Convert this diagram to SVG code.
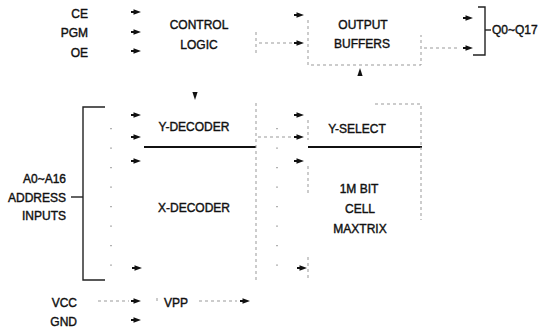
<svg xmlns="http://www.w3.org/2000/svg" width="543" height="328" viewBox="0 0 543 328">
<style>
text{font-family:"Liberation Sans",Arial,sans-serif;font-size:12px;fill:#111;stroke:#111;stroke-width:0.4}
.c{text-anchor:middle}
.e{text-anchor:end}
.solid{stroke:#222;stroke-width:1.4;fill:none}
.thick{stroke:#111;stroke-width:2.2;fill:none}
.dash{stroke:#999;stroke-width:1;fill:none;stroke-dasharray:3 3}
.dot{stroke:#888;stroke-width:1.3;fill:none;stroke-dasharray:1.3 18.2}
.ah{fill:#111;stroke:none}
</style>
<defs>
<path id="ar" class="ah" d="M-10,-0.9 H-7.5 V-2.8 L0,0 L-7.5,2.8 V0.9 H-10 Z"/>
<path id="au" class="ah" d="M-2.6,0 L0,-8 L2.6,0 Z"/>
<path id="ad" class="ah" d="M-2.6,0 L0,8 L2.6,0 Z"/>
</defs>

<g id="inputs">
<text class="e" x="88" y="18">CE</text>
<text class="e" x="88" y="37">PGM</text>
<text class="e" x="88" y="57">OE</text>
</g>

<g id="control-logic">
<text class="c" x="199" y="29">CONTROL</text>
<text class="c" x="199" y="49">LOGIC</text>
<line class="dash" x1="256" y1="32" x2="256" y2="54"/>
</g>

<g id="output-buffers">
<path class="dash" d="M308,20 V65 H421 V35"/>
<text class="c" x="363" y="29">OUTPUT</text>
<text class="c" x="362" y="48">BUFFERS</text>
</g>

<g id="q-outputs">
<path class="solid" d="M478,7 H485 V55 H473"/>
<line class="solid" x1="485" y1="30" x2="491" y2="30"/>
<text x="492" y="34">Q0~Q17</text>
</g>

<g id="address-inputs">
<text class="e" x="66" y="183">A0~A16</text>
<text class="e" x="66" y="202">ADDRESS</text>
<text class="e" x="66" y="220">INPUTS</text>
<path class="solid" d="M105,107 H83 V280 H105"/>
<line class="solid" x1="71" y1="197" x2="83" y2="197"/>
</g>

<g id="y-decoder">
<text class="c" x="194" y="131">Y-DECODER</text>
<line class="thick" x1="144" y1="147" x2="256" y2="147"/>
</g>

<g id="x-decoder">
<text class="c" x="194" y="212">X-DECODER</text>
<line class="dash" x1="256" y1="103" x2="256" y2="283"/>
</g>

<g id="y-select">
<path class="dash" d="M375,104 H421 V147"/>
<line class="dash" x1="308" y1="120" x2="308" y2="140"/>
<text class="c" x="357" y="133">Y-SELECT</text>
<line class="thick" x1="308" y1="147" x2="422" y2="147"/>
</g>

<g id="cell-matrix">
<text class="c" x="359" y="193">1M BIT</text>
<text class="c" x="360" y="213">CELL</text>
<text class="c" x="360" y="233">MAXTRIX</text>
<line class="dash" x1="421" y1="147" x2="421" y2="220"/>
<line class="dash" x1="308" y1="166" x2="308" y2="194"/>
<line class="dash" x1="308" y1="257" x2="308" y2="279"/>
</g>

<g id="power">
<text class="e" x="77" y="307">VCC</text>
<text class="e" x="77" y="326">GND</text>
<text x="164" y="307">VPP</text>
</g>

<g id="connectors">
<use href="#ar" transform="translate(141,12)"/>
<use href="#ar" transform="translate(141,32)"/>
<use href="#ar" transform="translate(141,51)"/>
<line class="dash" x1="259" y1="43" x2="293" y2="43"/>
<use href="#ar" transform="translate(304,43)"/>
<use href="#ar" transform="translate(304,15)"/>
<line class="dash" x1="424" y1="48" x2="460" y2="48"/>
<use href="#ar" transform="translate(473,18)"/>
<use href="#ar" transform="translate(473,48)"/>
<use href="#ad" transform="translate(195,92)"/>
<use href="#au" transform="translate(360,76)"/>
<line class="dot" x1="111" y1="128" x2="111" y2="270"/>
<line class="dot" x1="277" y1="128" x2="277" y2="270"/>
<use href="#ar" transform="translate(141,115)"/>
<use href="#ar" transform="translate(141,137)"/>
<use href="#ar" transform="translate(141,161)"/>
<use href="#ar" transform="translate(142,268)"/>
<line class="dash" x1="258" y1="137" x2="293" y2="137"/>
<use href="#ar" transform="translate(304,115)"/>
<use href="#ar" transform="translate(304,137)"/>
<use href="#ar" transform="translate(304,161)"/>
<use href="#ar" transform="translate(307,268)"/>
<line class="dash" x1="98" y1="301" x2="129" y2="301"/>
<use href="#ar" transform="translate(141,301)"/>
<line class="dash" x1="157" y1="298" x2="157" y2="304"/>
<line class="dash" x1="199" y1="301" x2="237" y2="301"/>
<use href="#ar" transform="translate(250,301)"/>
<use href="#ar" transform="translate(141,320)"/>
</g>
</svg>
